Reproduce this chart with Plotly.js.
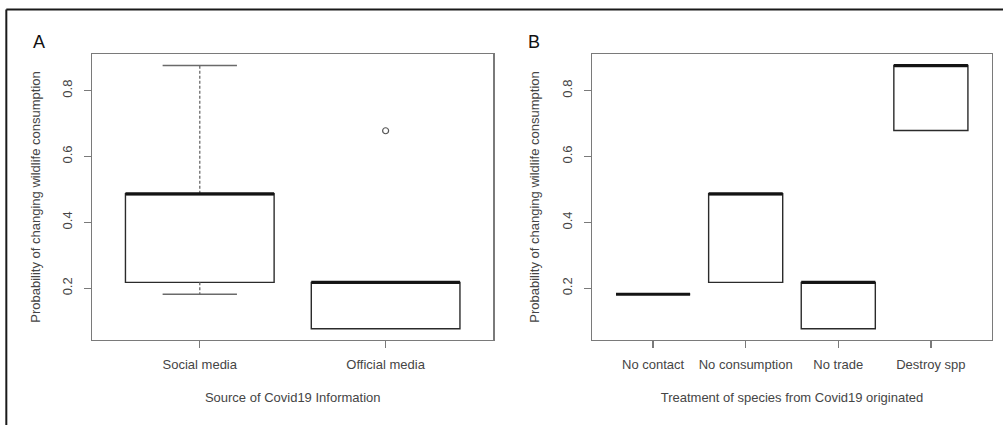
<!DOCTYPE html>
<html>
<head>
<meta charset="utf-8">
<script src="https://cdn.plot.ly/plotly-3.0.1.min.js"></script>
<style>
html,body{margin:0;padding:0;background:#fff;}
#chart{width:1003px;height:425px;}
</style>
</head>
<body>
<div id="chart"></div>
<script>
// Panel A: Source of Covid19 information
const srcCats = ['Social media', 'Official media'];
const srcQ1 = [0.218, 0.077];
const srcMedian = [0.487, 0.218];
const srcQ3 = [0.487, 0.218];
const srcLowWhisker = [0.182, 0.077];
const srcHighWhisker = [0.876, 0.218];
const srcOutliers = [[], [0.678]];

// Panel B: Treatment of species from which Covid19 originated
const trCats = ['No contact', 'No consumption', 'No trade', 'Destroy spp'];
const trQ1 = [0.182, 0.218, 0.077, 0.679];
const trMedian = [0.182, 0.487, 0.218, 0.876];
const trQ3 = [0.182, 0.487, 0.218, 0.876];
const trLowWhisker = [0.182, 0.218, 0.077, 0.679];
const trHighWhisker = [0.182, 0.487, 0.218, 0.876];
const trOutliers = [[], [], [], []];

const yTitle = 'Probability of changing wildlife consumption';
const xTitleA = 'Source of Covid19 Information';
const xTitleB = 'Treatment of species from Covid19 originated';
const yTicks = [0.2, 0.4, 0.6, 0.8];

const BOXW = 0.8, CAPW = 0.4;
const textCol = '#454545';
const frameCol = '#7a7a7a';

function panelTraces(cats, q1, med, q3, lo, hi, outl, xa, ya) {
  const pos = cats.map((c, i) => i + 1);
  const traces = [];
  traces.push({
    type: 'box', x: pos, q1: q1, median: med, q3: q3,
    lowerfence: q1, upperfence: q3,
    width: BOXW, whiskerwidth: 0,
    fillcolor: 'rgba(255,255,255,0)',
    line: {color: '#2b2b2b', width: 1.4},
    xaxis: xa, yaxis: ya, showlegend: false, hoverinfo: 'skip'
  });
  // dashed whiskers
  const wx = [], wy = [], cx = [], cy = [];
  pos.forEach((p, i) => {
    if (hi[i] > q3[i]) { wx.push(p, p, null); wy.push(q3[i], hi[i], null);
      cx.push(p - CAPW / 2, p + CAPW / 2, null); cy.push(hi[i], hi[i], null); }
    if (lo[i] < q1[i]) { wx.push(p, p, null); wy.push(q1[i], lo[i], null);
      cx.push(p - CAPW / 2, p + CAPW / 2, null); cy.push(lo[i], lo[i], null); }
  });
  traces.push({type: 'scatter', mode: 'lines', x: wx, y: wy, xaxis: xa, yaxis: ya,
    line: {color: '#6a6a6a', width: 1.3, dash: '3px,2px'}, showlegend: false, hoverinfo: 'skip'});
  traces.push({type: 'scatter', mode: 'lines', x: cx, y: cy, xaxis: xa, yaxis: ya,
    line: {color: '#6a6a6a', width: 1.4}, showlegend: false, hoverinfo: 'skip'});
  // thick medians
  const mx = [], my = [];
  pos.forEach((p, i) => { mx.push(p - BOXW / 2, p + BOXW / 2, null); my.push(med[i], med[i], null); });
  traces.push({type: 'scatter', mode: 'lines', x: mx, y: my, xaxis: xa, yaxis: ya,
    line: {color: '#141414', width: 3}, showlegend: false, hoverinfo: 'skip'});
  // outliers
  const ox = [], oy = [];
  pos.forEach((p, i) => outl[i].forEach(v => { ox.push(p); oy.push(v); }));
  traces.push({type: 'scatter', mode: 'markers', x: ox, y: oy, xaxis: xa, yaxis: ya,
    marker: {symbol: 'circle-open', size: 6, color: '#555', line: {width: 1.2}},
    showlegend: false, hoverinfo: 'skip'});
  return traces;
}

const data = [].concat(
  panelTraces(srcCats, srcQ1, srcMedian, srcQ3, srcLowWhisker, srcHighWhisker, srcOutliers, 'x', 'y'),
  panelTraces(trCats, trQ1, trMedian, trQ3, trLowWhisker, trHighWhisker, trOutliers, 'x2', 'y2')
);

const font = {family: 'Liberation Sans, Arial, sans-serif', size: 13, color: textCol};

function xAxis(cats, domain, title, anchor) {
  const n = cats.length;
  const pad = 0.04 * n;
  return {
    domain: domain, anchor: anchor,
    range: [0.5 - pad, n + 0.5 + pad],
    tickvals: cats.map((c, i) => i + 1), ticktext: cats,
    ticks: 'outside', ticklen: 7, tickwidth: 1.3, tickcolor: frameCol,
    ticklabelstandoff: 5,
    showline: true, mirror: true, linecolor: frameCol, linewidth: 1.4,
    showgrid: false, zeroline: false, tickfont: font,
    title: {text: title, font: font, standoff: 22}
  };
}
function yAxis(anchor) {
  return {
    anchor: anchor, domain: [0, 1],
    range: [0.043, 0.911],
    tickvals: yTicks, ticktext: yTicks.map(v => v.toFixed(1)),
    tickangle: -90,
    ticks: 'outside', ticklen: 7, tickwidth: 1.3, tickcolor: frameCol,
    ticklabelstandoff: 6,
    showline: true, mirror: true, linecolor: frameCol, linewidth: 1.4,
    showgrid: false, zeroline: false, tickfont: font,
    title: {text: yTitle, font: font, standoff: 17}
  };
}

const layout = {
  width: 1003, height: 425,
  margin: {l: 92, r: 11, t: 54, b: 85},
  paper_bgcolor: '#fff', plot_bgcolor: '#fff',
  showlegend: false,
  xaxis: xAxis(srcCats, [0, 0.446], xTitleA, 'y'),
  yaxis: yAxis('x'),
  xaxis2: xAxis(trCats, [0.5555, 1], xTitleB, 'y2'),
  yaxis2: yAxis('x2'),
  annotations: [
    {text: 'A', xref: 'paper', yref: 'paper', x: -0.0593, y: 1.0437, xanchor: 'center', yanchor: 'middle',
     showarrow: false, font: {family: 'Liberation Sans, Arial, sans-serif', size: 18, color: '#111'}},
    {text: 'B', xref: 'paper', yref: 'paper', x: 0.4907, y: 1.0437, xanchor: 'center', yanchor: 'middle',
     showarrow: false, font: {family: 'Liberation Sans, Arial, sans-serif', size: 18, color: '#111'}}
  ],
  shapes: [
    {type: 'line', xref: 'paper', yref: 'paper', x0: -0.0952, x1: 1.02, y0: 1.1556, y1: 1.1556,
     line: {color: '#1a1a1a', width: 2}},
    {type: 'line', xref: 'paper', yref: 'paper', x0: -0.0952, x1: -0.0952, y0: 1.1556, y1: -0.31,
     line: {color: '#1a1a1a', width: 2}}
  ]
};

Plotly.newPlot('chart', data, layout, {displayModeBar: false, staticPlot: true});
</script>
</body>
</html>
